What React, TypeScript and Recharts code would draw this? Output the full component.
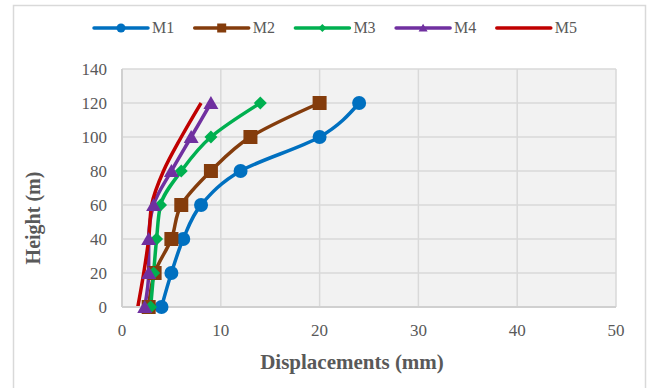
import React from 'react';
import { LineChart, Line, XAxis, YAxis, CartesianGrid } from 'recharts';

// storey heights (m) and lateral displacement (mm) for each model
const heights = [0, 20, 40, 60, 80, 100, 120];
const m1 = [4, 5, 6.2, 8, 12, 20, 24];
const m2 = [2.7, 3.3, 5, 6, 9, 13, 20];
const m3 = [2.9, 3.2, 3.5, 3.9, 6, 9, 14];
const m4 = [2.3, 2.7, 2.7, 3.2, 5, 7, 9];
const m5 = [1.6, 2.2, 2.7, 3.0, 4.2, 6, 8];

const xTicks = [0, 10, 20, 30, 40, 50];
const yTicks = [0, 20, 40, 60, 80, 100, 120, 140];

type Shape = 'circle' | 'square' | 'diamond' | 'triangle' | 'none';

const series: { key: string; values: number[]; color: string; shape: Shape }[] = [
  { key: 'M1', values: m1, color: '#0070C0', shape: 'circle' },
  { key: 'M2', values: m2, color: '#843C0C', shape: 'square' },
  { key: 'M3', values: m3, color: '#00B050', shape: 'diamond' },
  { key: 'M4', values: m4, color: '#7030A0', shape: 'triangle' },
  { key: 'M5', values: m5, color: '#C00000', shape: 'none' },
];

const data = heights.map((h, i) => {
  const row: Record<string, number> = { height: h };
  series.forEach((s) => {
    row[s.key] = s.values[i];
  });
  return row;
});

const W = 652;
const H = 388;
const FONT = '"Liberation Serif", "Times New Roman", serif';
const TEXT = '#595959';

function marker(shape: Shape, cx: number, cy: number, size: number, color: string, key?: string) {
  const h = size / 2;
  switch (shape) {
    case 'circle':
      return <circle key={key} cx={cx} cy={cy} r={h} fill={color} />;
    case 'square':
      return <rect key={key} x={cx - h} y={cy - h} width={size} height={size} fill={color} />;
    case 'diamond':
      return (
        <polygon key={key} points={`${cx},${cy - h} ${cx + h},${cy} ${cx},${cy + h} ${cx - h},${cy}`} fill={color} />
      );
    case 'triangle':
      return (
        <polygon
          key={key}
          points={`${cx},${cy - h * 0.95} ${cx + h},${cy + h * 0.8} ${cx - h},${cy + h * 0.8}`}
          fill={color}
        />
      );
    default:
      return <g key={key} />;
  }
}

const markerSize: Record<Shape, number> = { circle: 14, square: 14, diamond: 13, triangle: 15, none: 0 };
const legendSize: Record<Shape, number> = { circle: 9, square: 9, diamond: 8, triangle: 9, none: 0 };

const App: React.FC = () => {
  return (
    <div
      style={{ position: 'absolute', left: 0, top: 0, width: W, height: H, background: '#fff', fontFamily: FONT }}
    >
      <LineChart
        width={W}
        height={H}
        data={data}
        layout="vertical"
        margin={{ top: 69, right: 36, bottom: 51, left: 72 }}
      >
        <CartesianGrid fill="#F2F2F2" stroke="#D9D9D9" strokeWidth={1.5} />
        <XAxis
          type="number"
          domain={[0, 50]}
          ticks={xTicks}
          height={30}
          tickLine={false}
          tickSize={0}
          tickMargin={17}
          axisLine={{ stroke: '#D0D0D0', strokeWidth: 2 }}
          tick={{ fill: TEXT, fontSize: 17, fontFamily: FONT }}
        />
        <YAxis
          type="number"
          dataKey="height"
          domain={[0, 140]}
          ticks={yTicks}
          reversed
          width={50}
          tickLine={false}
          tickSize={0}
          tickMargin={15}
          axisLine={{ stroke: '#D0D0D0', strokeWidth: 2 }}
          tick={{ fill: TEXT, fontSize: 17, fontFamily: FONT }}
        />
        {series.map((s) => (
          <Line
            key={s.key}
            dataKey={s.key}
            type="monotone"
            stroke={s.color}
            strokeWidth={3.5}
            isAnimationActive={false}
            activeDot={false}
            dot={
              s.shape === 'none'
                ? false
                : (p: any) => marker(s.shape, p.cx, p.cy, markerSize[s.shape], s.color, `${s.key}-${p.index}`)
            }
          />
        ))}
      </LineChart>

      {/* legend, axis titles and the chart frame */}
      <svg width={W} height={H} style={{ position: 'absolute', left: 0, top: 0, pointerEvents: 'none' }}>
        <rect x={13.5} y={5.5} width={632} height={400} fill="none" stroke="#D9D9D9" strokeWidth={1.5} />
        {series.map((s, i) => {
          const x0 = 94 + i * 100.7;
          return (
            <g key={s.key}>
              <line x1={x0} y1={28} x2={x0 + 54} y2={28} stroke={s.color} strokeWidth={3.5} strokeLinecap="round" />
              {marker(s.shape, x0 + 27, 28, legendSize[s.shape], s.color)}
              <text x={x0 + 58} y={33} fill={TEXT} fontSize={16} fontFamily={FONT}>
                {s.key}
              </text>
            </g>
          );
        })}
        <text
          x={352}
          y={369}
          textAnchor="middle"
          fill={TEXT}
          fontSize={21}
          fontWeight="bold"
          fontFamily={FONT}
        >
          Displacements (mm)
        </text>
        <text
          transform="translate(40, 218) rotate(-90)"
          textAnchor="middle"
          fill={TEXT}
          fontSize={20}
          fontWeight="bold"
          fontFamily={FONT}
        >
          Height (m)
        </text>
      </svg>
    </div>
  );
};

export default App;
